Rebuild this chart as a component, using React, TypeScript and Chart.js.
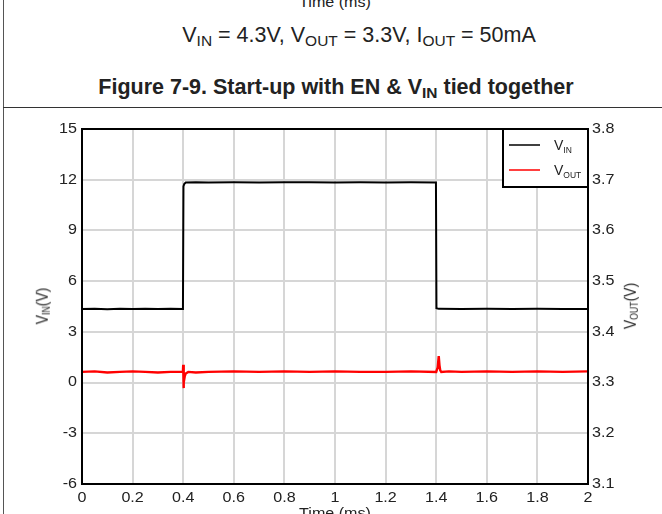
import React, { useEffect, useRef } from "react";
import { Chart, registerables } from "chart.js";

Chart.register(...registerables);

// ---- data ----
const vinTime = [0, 0.05, 0.1, 0.15, 0.2, 0.25, 0.3, 0.35, 0.399, 0.401, 0.404, 0.41, 0.45, 0.5, 0.6, 0.7, 0.8, 0.9, 1.0, 1.1, 1.2, 1.3, 1.399, 1.401, 1.41, 1.5, 1.6, 1.7, 1.8, 1.9, 2.0];
const vinValues = [4.35, 4.36, 4.34, 4.36, 4.35, 4.36, 4.35, 4.36, 4.35, 11.6, 11.75, 11.84, 11.85, 11.84, 11.85, 11.84, 11.85, 11.85, 11.84, 11.85, 11.84, 11.85, 11.84, 4.4, 4.36, 4.35, 4.36, 4.35, 4.36, 4.35, 4.35];

const voutTime = [0, 0.05, 0.1, 0.15, 0.2, 0.25, 0.3, 0.35, 0.399, 0.4, 0.401, 0.403, 0.406, 0.41, 0.42, 0.45, 0.5, 0.6, 0.7, 0.8, 0.9, 1.0, 1.1, 1.2, 1.3, 1.4, 1.406, 1.41, 1.413, 1.416, 1.42, 1.45, 1.5, 1.6, 1.7, 1.8, 1.9, 2.0];
const voutValues = [3.321, 3.322, 3.320, 3.321, 3.322, 3.321, 3.320, 3.321, 3.321, 3.335, 3.289, 3.300, 3.312, 3.318, 3.321, 3.320, 3.321, 3.322, 3.321, 3.322, 3.321, 3.322, 3.321, 3.321, 3.322, 3.321, 3.330, 3.352, 3.334, 3.324, 3.321, 3.322, 3.321, 3.322, 3.321, 3.322, 3.321, 3.322];

const xTickLabels = ["0", "0.2", "0.4", "0.6", "0.8", "1", "1.2", "1.4", "1.6", "1.8", "2"];
const leftTickLabels = ["-6", "-3", "0", "3", "6", "9", "12", "15"];
const rightTickLabels = ["3.1", "3.2", "3.3", "3.4", "3.5", "3.6", "3.7", "3.8"];

const seriesNames = [
  { main: "V", sub: "IN" },
  { main: "V", sub: "OUT" },
];
const seriesColors = ["#000000", "#ff0000"];

const FONT = "'Liberation Sans', Arial, sans-serif";
const TEXT = "#222222";
const STRETCH = 1.15;

function stretchedText(ctx: any, text: string, x: number, y: number, align: "left" | "right" | "center", baseline: CanvasTextBaseline) {
  ctx.save();
  ctx.translate(x, y);
  ctx.scale(STRETCH, 1);
  ctx.textAlign = align;
  ctx.textBaseline = baseline;
  ctx.fillText(text, 0, 0);
  ctx.restore();
}

const frameLegendTicks = {
  id: "frameLegendTicks",
  afterDatasetsDraw(chart: any) {
    const { ctx, chartArea } = chart;
    ctx.save();
    ctx.strokeStyle = "#000";
    ctx.lineWidth = 2;
    ctx.strokeRect(chartArea.left, chartArea.top, chartArea.right - chartArea.left, chartArea.bottom - chartArea.top);
    // legend
    const w = 85;
    const h = 58;
    const x0 = chartArea.right - w;
    const y0 = chartArea.top;
    ctx.fillStyle = "#fff";
    ctx.fillRect(x0, y0, w, h);
    ctx.strokeRect(x0, y0, w, h);
    seriesNames.forEach((s, i) => {
      const y = y0 + 16 + i * 25;
      ctx.strokeStyle = seriesColors[i];
      ctx.lineWidth = 1.5;
      ctx.beginPath();
      ctx.moveTo(x0 + 6, y);
      ctx.lineTo(x0 + 37, y);
      ctx.stroke();
      ctx.fillStyle = TEXT;
      ctx.textBaseline = "alphabetic";
      ctx.textAlign = "left";
      ctx.font = `14px ${FONT}`;
      ctx.fillText(s.main, x0 + 51, y + 5);
      const mw = ctx.measureText(s.main).width;
      ctx.font = `8.5px ${FONT}`;
      ctx.fillText(s.sub, x0 + 51 + mw, y + 8);
    });
    // tick labels
    ctx.fillStyle = TEXT;
    ctx.font = `14px ${FONT}`;
    const sx = chart.scales.x;
    sx.ticks.forEach((t: any, i: number) => {
      stretchedText(ctx, xTickLabels[i] ?? "", sx.getPixelForValue(t.value), chartArea.bottom + 14, "center", "middle");
    });
    const sy = chart.scales.y;
    sy.ticks.forEach((t: any, i: number) => {
      stretchedText(ctx, leftTickLabels[i] ?? "", chartArea.left - 5, sy.getPixelForValue(t.value), "right", "middle");
    });
    const sy2 = chart.scales.y2;
    sy2.ticks.forEach((t: any, i: number) => {
      stretchedText(ctx, rightTickLabels[i] ?? "", chartArea.right + 4, sy2.getPixelForValue(t.value), "left", "middle");
    });
    ctx.restore();
  },
};

function ChartView() {
  const ref = useRef<HTMLCanvasElement | null>(null);
  useEffect(() => {
    if (!ref.current) return;
    const chart = new Chart(ref.current, {
      type: "line",
      data: {
        datasets: [
          {
            label: "VIN",
            data: vinTime.map((t, i) => ({ x: t, y: vinValues[i] })),
            borderColor: seriesColors[0],
            borderWidth: 2,
            pointRadius: 0,
            tension: 0,
            yAxisID: "y",
          },
          {
            label: "VOUT",
            data: voutTime.map((t, i) => ({ x: t, y: voutValues[i] })),
            borderColor: seriesColors[1],
            borderWidth: 2.4,
            pointRadius: 0,
            tension: 0,
            yAxisID: "y2",
          },
        ],
      },
      options: {
        animation: false,
        responsive: false,
        maintainAspectRatio: false,
        layout: { padding: { top: 20, left: 0, right: 0, bottom: 0 } },
        plugins: { legend: { display: false }, tooltip: { enabled: false } },
        scales: {
          x: {
            type: "linear",
            min: 0,
            max: 2,
            ticks: { stepSize: 0.2, display: false, autoSkip: false },
            grid: { color: "#d6d6d6", lineWidth: 2, drawTicks: false },
            border: { display: false },
            afterFit: (s: any) => {
              s.height = 30;
            },
          },
          y: {
            type: "linear",
            position: "left",
            min: -6,
            max: 15,
            ticks: { stepSize: 3, display: false },
            grid: { color: "#d6d6d6", lineWidth: 2, drawTicks: false },
            border: { display: false },
            afterFit: (s: any) => {
              s.width = 78;
            },
          },
          y2: {
            type: "linear",
            position: "right",
            min: 3.1,
            max: 3.8,
            ticks: { stepSize: 0.1, display: false },
            grid: { display: false, drawTicks: false },
            border: { display: false },
            afterFit: (s: any) => {
              s.width = 74;
            },
          },
        },
      },
      plugins: [frameLegendTicks],
    });
    return () => chart.destroy();
  }, []);
  return <canvas ref={ref} width={658} height={405} style={{ position: "absolute", left: 4, top: 109, width: 658, height: 405 }} />;
}

export default function App() {
  const subStyle: React.CSSProperties = { fontSize: "0.72em", verticalAlign: "-0.25em", lineHeight: 0 };
  const axisSub: React.CSSProperties = { fontSize: "0.62em", verticalAlign: "-0.2em", lineHeight: 0 };
  return (
    <div
      style={{
        position: "fixed",
        left: 0,
        top: 0,
        width: 662,
        height: 514,
        overflow: "hidden",
        background: "#fff",
        fontFamily: FONT,
        color: TEXT,
      }}
    >
      <div style={{ position: "absolute", left: 3, top: 0, width: 1, height: 514, background: "#555" }} />
      <div style={{ position: "absolute", left: 3, top: 107, width: 659, height: 1, background: "#333" }} />
      <div style={{ position: "absolute", left: 35, width: 600, top: -5, lineHeight: "15px", fontSize: 14, textAlign: "center", transform: `scaleX(${STRETCH})` }}>Time (ms)</div>
      <div style={{ position: "absolute", left: 59, width: 600, top: 25, lineHeight: "21px", fontSize: 21.5, textAlign: "center", whiteSpace: "nowrap" }}>
        V<span style={subStyle}>IN</span> = 4.3V, V<span style={subStyle}>OUT</span> = 3.3V, I<span style={subStyle}>OUT</span> = 50mA
      </div>
      <div style={{ position: "absolute", left: 36, width: 600, top: 77, lineHeight: "21px", fontSize: 21.5, fontWeight: "bold", textAlign: "center", whiteSpace: "nowrap" }}>
        Figure 7-9. Start-up with EN &amp; V<span style={subStyle}>IN</span> tied together
      </div>
      <ChartView />
      <div
        style={{
          position: "absolute",
          left: 42,
          top: 306,
          transform: `translate(-50%, -50%) rotate(-90deg) scaleY(${STRETCH})`,
          fontSize: 14,
          lineHeight: "14px",
          whiteSpace: "nowrap",
        }}
      >
        V<span style={axisSub}>IN</span>(V)
      </div>
      <div
        style={{
          position: "absolute",
          left: 630,
          top: 306,
          transform: `translate(-50%, -50%) rotate(-90deg) scaleY(${STRETCH})`,
          fontSize: 14,
          lineHeight: "14px",
          whiteSpace: "nowrap",
        }}
      >
        V<span style={axisSub}>OUT</span>(V)
      </div>
      <div style={{ position: "absolute", left: 35, width: 600, top: 506, lineHeight: "15px", fontSize: 14, textAlign: "center", transform: `scaleX(${STRETCH})` }}>Time (ms)</div>
    </div>
  );
}
